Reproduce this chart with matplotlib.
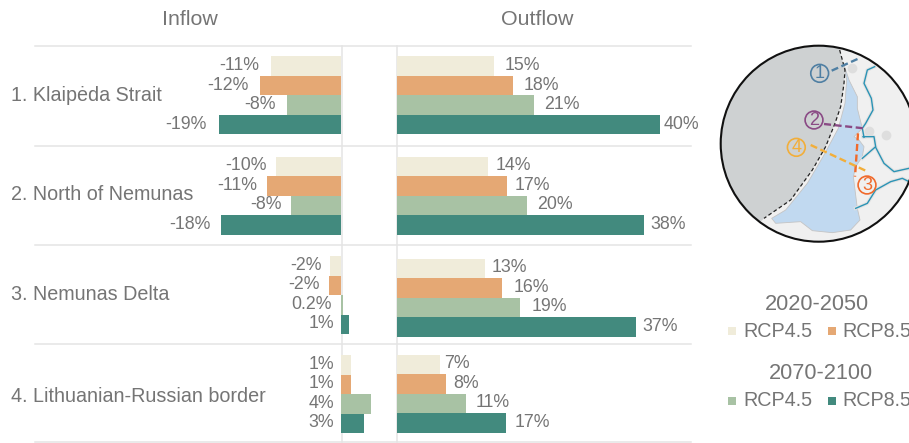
import matplotlib
matplotlib.use("Agg")
from matplotlib import pyplot as plt
from matplotlib.patches import Circle, Polygon

plt.rcParams["font.family"] = ["Liberation Sans", "DejaVu Sans"]

# Chart values
sections = ["1. Klaipėda Strait", "2. North of Nemunas", "3. Nemunas Delta", "4. Lithuanian-Russian border"]
series_names = ["RCP4.5", "RCP8.5", "RCP4.5", "RCP8.5"]
periods = ["2020-2050", "2070-2100"]
colors = ["#f0ecda", "#e5a874", "#a8c2a4", "#428a7e"]

inflow_1 = [-10.8, -10.0, -1.7, 1.5]
inflow_2 = [-12.5, -11.5, -1.9, 1.5]
inflow_3 = [-8.4, -7.8, 0.2, 4.5]
inflow_4 = [-18.9, -18.6, 1.1, 3.4]
outflow_1 = [14.9, 14.0, 13.5, 6.6]
outflow_2 = [17.9, 16.9, 16.2, 7.6]
outflow_3 = [21.1, 20.0, 18.9, 10.6]
outflow_4 = [40.4, 38.0, 36.8, 16.8]

inflow_labels_1 = ["-11%", "-10%", "-2%", "1%"]
inflow_labels_2 = ["-12%", "-11%", "-2%", "1%"]
inflow_labels_3 = ["-8%", "-8%", "0.2%", "4%"]
inflow_labels_4 = ["-19%", "-18%", "1%", "3%"]
outflow_labels_1 = ["15%", "14%", "13%", "7%"]
outflow_labels_2 = ["18%", "17%", "16%", "8%"]
outflow_labels_3 = ["21%", "20%", "19%", "11%"]
outflow_labels_4 = ["40%", "38%", "37%", "17%"]

inflow = [inflow_1, inflow_2, inflow_3, inflow_4]
outflow = [outflow_1, outflow_2, outflow_3, outflow_4]
inflow_labels = [inflow_labels_1, inflow_labels_2, inflow_labels_3, inflow_labels_4]
outflow_labels = [outflow_labels_1, outflow_labels_2, outflow_labels_3, outflow_labels_4]

# Gaps between bar end and its label, in pixels (hand placed in the original)
inflow_gaps = [[12, 12, 11, 12], [10, 9.5, 9, 10], [9, 9.5, 9.5, 7.5], [7.5, 7.5, 7.5, 7.5]]
outflow_gaps = [[11, 10, 10, 4.5], [7.5, 7.5, 10.5, 6.5], [6.5, 11.5, 11.5, 6], [4.5, 6.5, 10, 8]]

W, H = 909, 443
GREY = "#757575"
LINE = "#e4e4e4"
PX_PER_UNIT = 6.5
INFLOW_ZERO = 341.5
OUTFLOW_ZERO = 397
LEFT, RIGHT = 35, 691
BAR_H = 19.5

inflow_rows = [95.3, 195.5, 295, 394]
outflow_rows = [95.3, 195.5, 297.5, 393.7]
separators = [46, 145.5, 244.5, 343.7, 442]
section_y = [95, 194.5, 294.5, 396.5]

fig = plt.figure(figsize=(W / 100, H / 100), dpi=100)

# Full figure axes in pixels, for rules, text and the map
base = fig.add_axes([0, 0, 1, 1])
base.set_xlim(0, W)
base.set_ylim(H, 0)
base.axis("off")

for y in separators:
    base.plot([LEFT, RIGHT], [y, y], color=LINE, lw=1.1, zorder=1)
for x in [INFLOW_ZERO, OUTFLOW_ZERO - 0.5]:
    base.plot([x, x], [separators[0], separators[-1]], color=LINE, lw=1.1, zorder=1)

base.text(190, 19, "Inflow", color=GREY, fontsize=15.4, ha="center", va="center")
base.text(537, 19, "Outflow", color=GREY, fontsize=15.4, ha="center", va="center")
for name, y in zip(sections, section_y):
    base.text(11, y, name, color=GREY, fontsize=14.2, ha="left", va="center")


def bar_axes(x0, x1, zero):
    ax = fig.add_axes([x0 / W, 0, (x1 - x0) / W, 1])
    ax.set_xlim((x0 - zero) / PX_PER_UNIT, (x1 - zero) / PX_PER_UNIT)
    ax.set_ylim(H, 0)
    ax.axis("off")
    ax.patch.set_alpha(0)
    return ax


ax_in = bar_axes(LEFT, OUTFLOW_ZERO, INFLOW_ZERO)
ax_out = bar_axes(OUTFLOW_ZERO, RIGHT, OUTFLOW_ZERO)

for j, color in enumerate(colors):
    for i in range(len(sections)):
        # Inflow: labels sit left of the bar, or left of the axis for positive values
        y = inflow_rows[i] + (j - 1.5) * BAR_H
        v = inflow[j][i]
        ax_in.barh(y, v, height=BAR_H, color=color)
        ax_in.annotate(inflow_labels[j][i], (min(v, 0), y - 0.5), xytext=(-inflow_gaps[i][j] * 0.72, 0),
                       textcoords="offset points", color=GREY, fontsize=12.8, ha="right", va="center")
        # Outflow
        y = outflow_rows[i] + (j - 1.5) * BAR_H
        v = outflow[j][i]
        ax_out.barh(y, v, height=BAR_H, color=color)
        ax_out.annotate(outflow_labels[j][i], (v, y - 0.5), xytext=(outflow_gaps[i][j] * 0.72, 0),
                        textcoords="offset points", color=GREY, fontsize=12.8, ha="left", va="center",
                        annotation_clip=False)

# Legend
for k, (period, tx, ty, sy) in enumerate(zip(periods, [817, 821], [304.5, 373.5], [331, 400.5])):
    base.text(tx, ty, period, color=GREY, fontsize=15.7, ha="center", va="center")
    for m, (sx, lx) in enumerate(zip([731.5, 831.5], [743, 842.7])):
        idx = k * 2 + m
        base.plot(sx, sy, "s", ms=6.2, color=colors[idx], mew=0)
        base.text(lx, sy + 0.5, series_names[idx], color=GREY, fontsize=14.2, ha="left", va="center")

# Map inset, outlines traced by eye, given in 3x crop coordinates
coast = [(392, 30), (408, 90), (405, 130), (395, 200), (378, 250), (350, 320), (310, 390), (245, 480), (165, 535)]
sea = coast + [(100, 600), (0, 600), (0, 0), (392, 0)]
lagoon = [(405, 75), (420, 120), (445, 170), (445, 205), (460, 265), (435, 290), (450, 300), (465, 320), (460, 350),
          (440, 380), (433, 410), (445, 505), (453, 540), (425, 570), (370, 578), (310, 572), (275, 545), (200, 550),
          (188, 535), (230, 510), (295, 430), (345, 345), (388, 265), (408, 190), (413, 120)]
river_a = [(497, 80), (475, 90), (465, 130), (487, 175), (492, 210), (470, 250), (460, 265), (465, 292)]
river_b = [(462, 290), (495, 290), (500, 320), (460, 355)]
river_c = [(500, 322), (525, 370), (555, 395), (600, 385)]
river_d = [(440, 505), (475, 490), (500, 450), (545, 425), (580, 415), (600, 425)]
towns = [(430, 85), (480, 272), (530, 285)]
cuts = [((368, 92), (450, 55), "#4f7fa3"), ((345, 252), (465, 265), "#8a4a85"),
        ((447, 280), (438, 410), "#f06a2c"), ((305, 315), (472, 393), "#f2ae3a")]
cut_marks = [("1", 332, 100, "#4f7fa3"), ("2", 315, 240, "#8a4a85"), ("3", 474, 435, "#f06a2c"), ("4", 262, 322, "#f2ae3a")]


def crop_xy(pts):
    return [(709 + x / 3, 40 + y / 3) for x, y in pts]


def crop_line(pts, **kw):
    xy = crop_xy(pts)
    line, = base.plot([p[0] for p in xy], [p[1] for p in xy], **kw)
    line.set_clip_path(disc)
    return line


disc = Circle((818.7, 143.7), 98, facecolor="#f0f0f0", edgecolor="none", zorder=3)
base.add_patch(disc)
sea_patch = Polygon(crop_xy(sea), facecolor="#ced1d2", edgecolor="none", zorder=3.1)
base.add_patch(sea_patch)
sea_patch.set_clip_path(disc)
lagoon_patch = Polygon(crop_xy(lagoon), facecolor="#c1d9f0", edgecolor="#c4c4c4", lw=0.6, zorder=3.2)
base.add_patch(lagoon_patch)
lagoon_patch.set_clip_path(disc)
crop_line(coast, color="#222222", lw=0.9, ls=(0, (3, 2)), zorder=3.5)
for town in towns:
    crop_line([town], marker="o", ms=7, color="#dedede", mew=0, zorder=3.3)
for river in [river_a, river_b, river_c, river_d]:
    crop_line(river, color="#e2e2e2", lw=2.5, zorder=3.3)
    crop_line(river, color="#2a93b5", lw=1.0, zorder=3.4)
for p0, p1, c in cuts:
    crop_line([p0, p1], color=c, lw=1.7, ls=(0, (3, 1.5)), zorder=3.6)
for label, x, y, c in cut_marks:
    cx, cy = crop_xy([(x, y)])[0]
    base.add_patch(Circle((cx, cy), 8.9, facecolor="none", edgecolor=c, lw=1.2, zorder=3.7))
    base.text(cx, cy + 0.5, label, color=c, fontsize=13, ha="center", va="center", zorder=3.8)
base.add_patch(Circle((818.7, 143.7), 98, facecolor="none", edgecolor="#111111", lw=1.5, zorder=3.9))

fig.savefig("out.png", dpi=100)
